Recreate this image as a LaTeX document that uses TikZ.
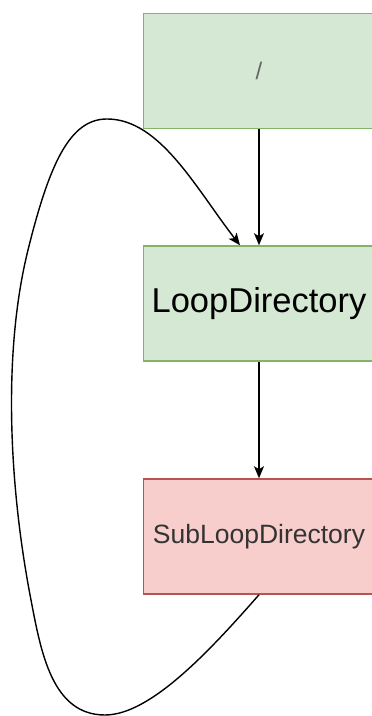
\documentclass[tikz,border=0pt]{standalone}
\usepackage{fontspec}
\setmainfont{Liberation Sans}
\usetikzlibrary{arrows.meta}
\definecolor{gfill}{HTML}{D5E8D4}
\definecolor{gline}{HTML}{82B366}
\definecolor{rfill}{HTML}{F8CECC}
\definecolor{rline}{HTML}{B85450}
\begin{document}
\begin{tikzpicture}[x=1pt,y=1pt,
  box/.style={draw, line width=1.5pt, minimum width=231pt, minimum height=115pt, inner sep=0pt, anchor=center},
  gbox/.style={box, fill=gfill, draw=gline},
  rbox/.style={box, fill=rfill, draw=rline},
  arr/.style={line width=1.4pt, -{Stealth[length=12pt,width=10pt,inset=3pt]}}]
\useasboundingbox (0,0) rectangle (372,716);
\node[gbox, text=black!60] (root) at (259,645) {\fontsize{24}{28}\selectfont /};
\node[gbox] (loop) at (259,412.5) {\fontsize{34.5}{40}\selectfont LoopDirectory};
\node[rbox, text=black!80] (sub) at (259,179.5) {\fontsize{26.5}{32}\selectfont SubLoopDirectory};
\draw[arr] (root.south) -- (loop.north);
\draw[arr] (loop.south) -- (sub.north);
\coordinate (bot) at (105,1);
\coordinate (lowl) at (31,116);
\coordinate (upl) at (28,466);
\coordinate (top) at (107,597);
\draw[arr] (sub.south) .. controls (208.8,64) and (150,1) .. (bot)
  .. controls (52,1) and (41,64) .. (lowl)
  .. controls (10.1,223.8) and (1.6,359.3) .. (upl)
  .. controls (49.6,553) and (70,597) .. (top)
  .. controls (160,597) and (196,527.5) .. ([xshift=-19pt]loop.north);
\end{tikzpicture}
\end{document}
